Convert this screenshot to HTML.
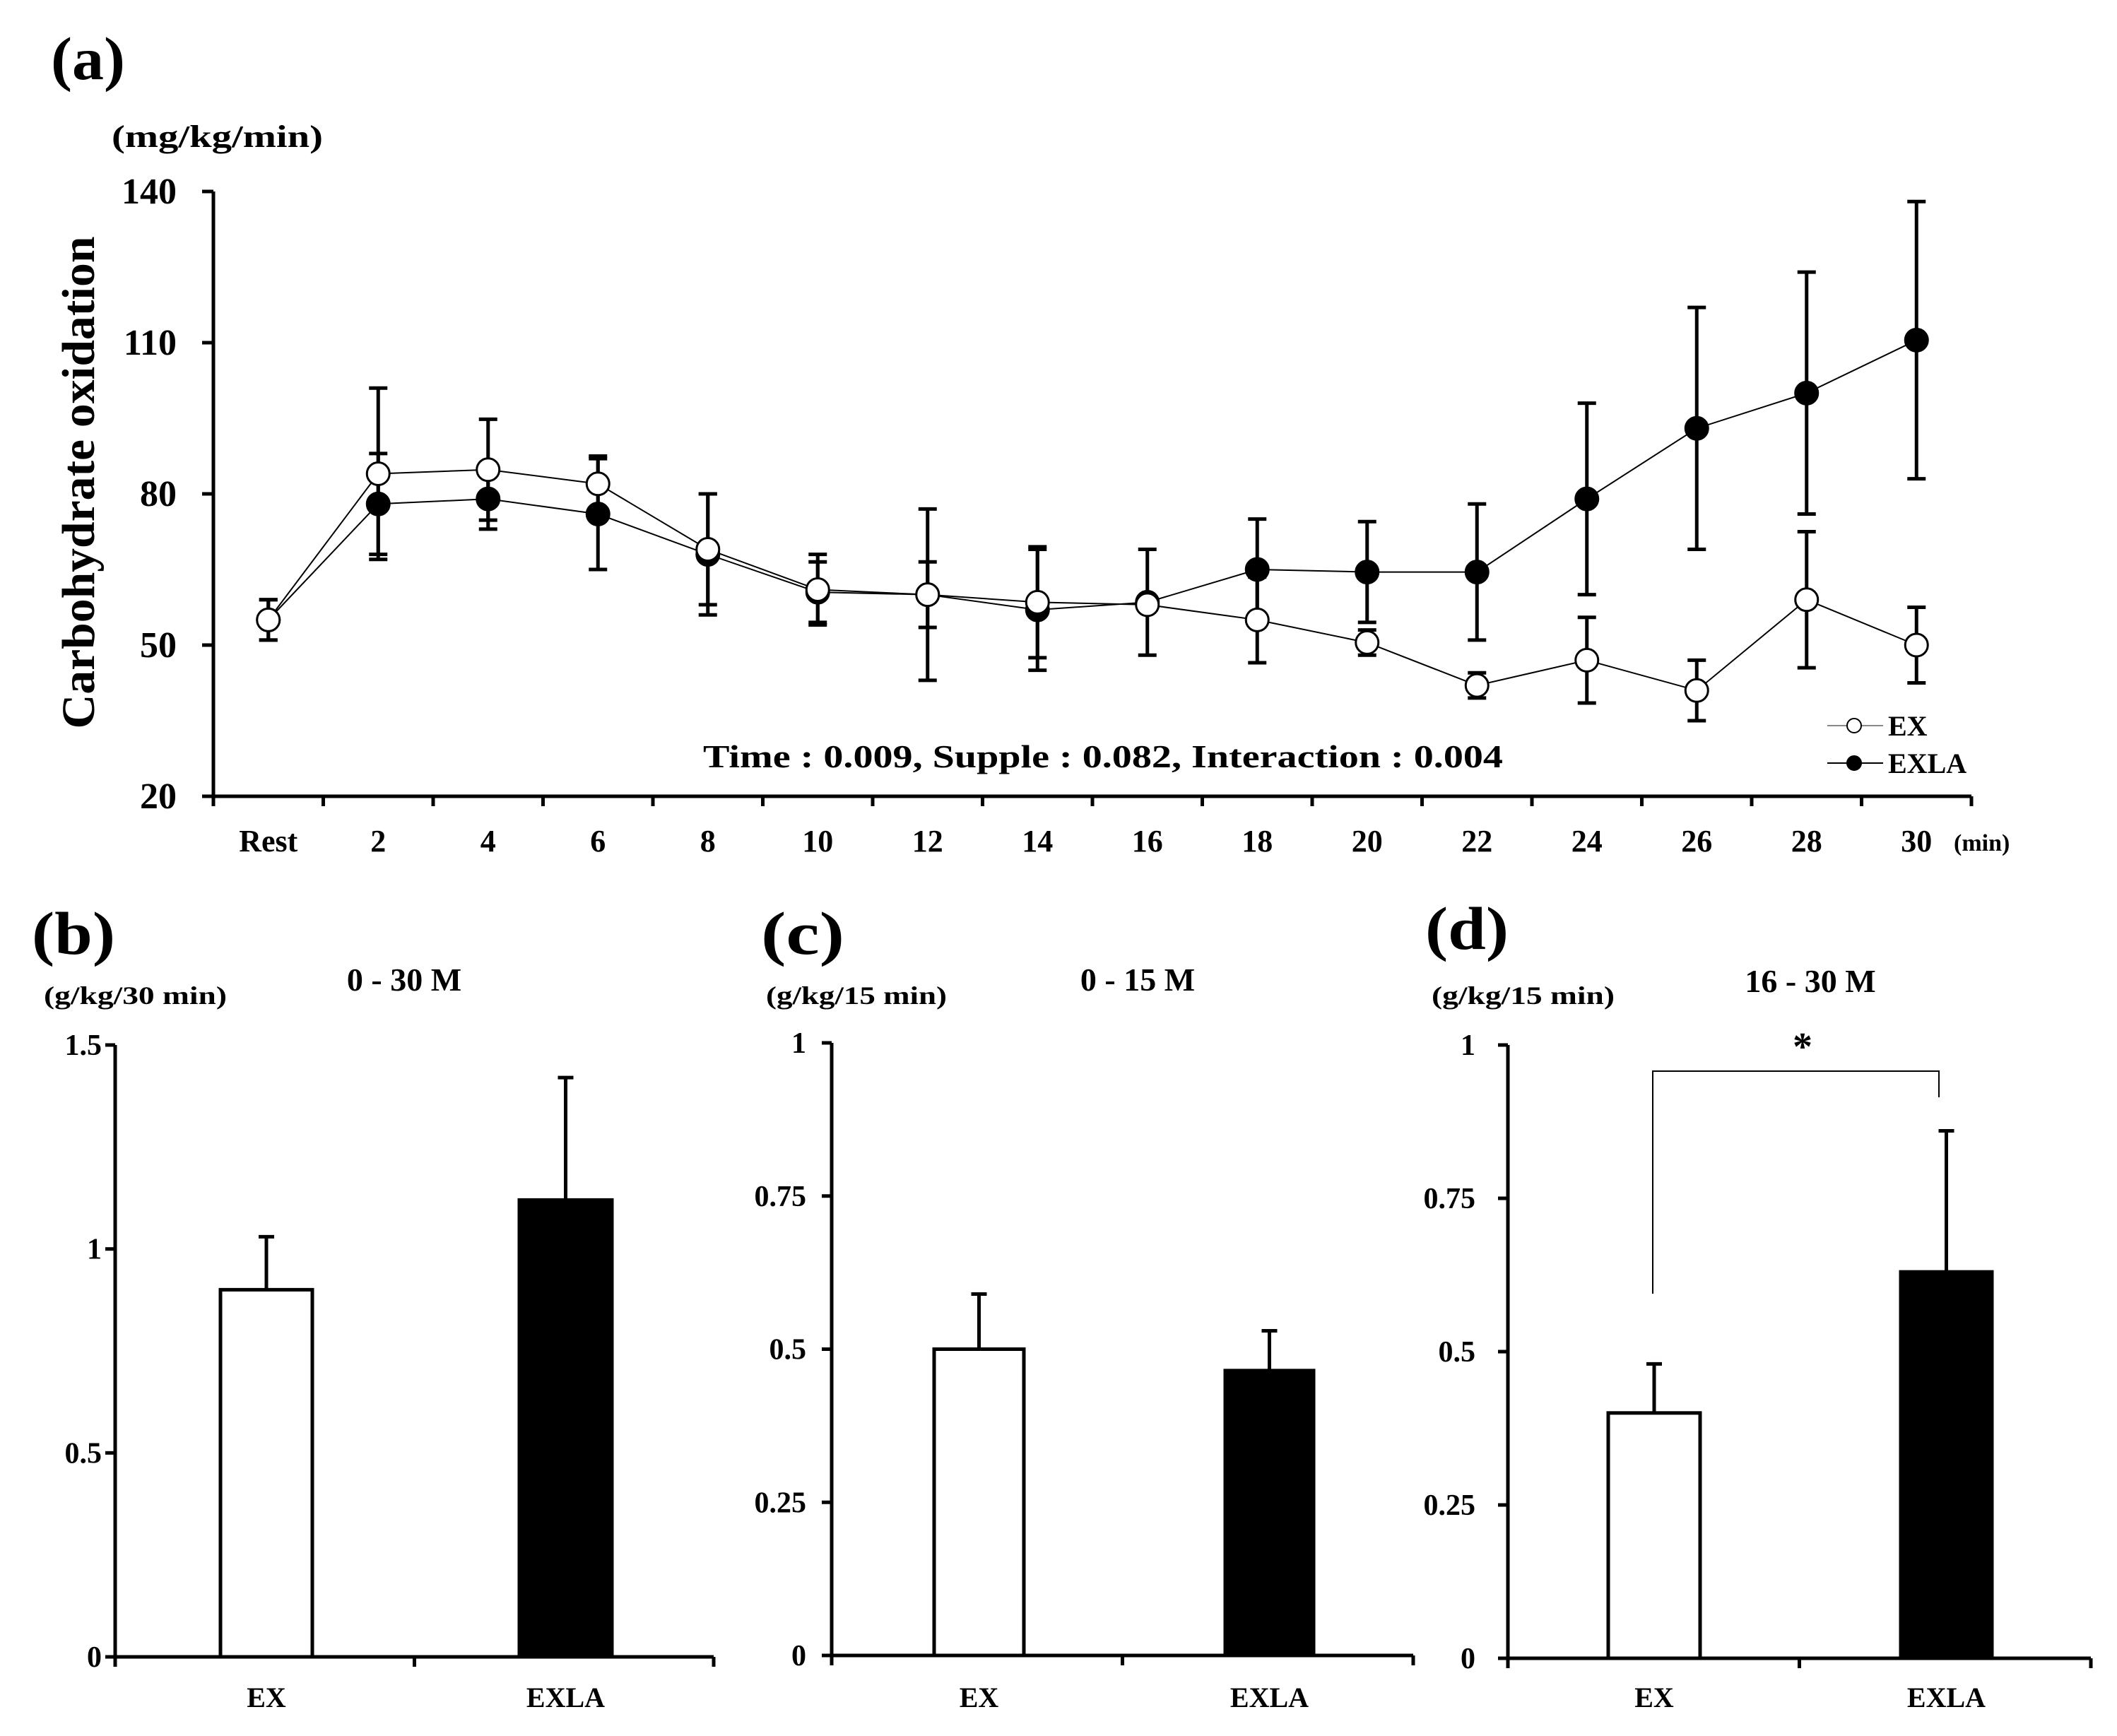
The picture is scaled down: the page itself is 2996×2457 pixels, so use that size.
<!DOCTYPE html>
<html><head><meta charset="utf-8"><style>
body{margin:0;background:#fff}
svg{display:block}
text{font-family:"Liberation Serif",serif;font-weight:bold;fill:#000}
</style></head><body>
<svg width="2996" height="2457" viewBox="0 0 2996 2457" xmlns="http://www.w3.org/2000/svg" id="fig">
<text x="72" y="112" font-size="86" textLength="105" lengthAdjust="spacingAndGlyphs">(a)</text>
<text x="158" y="208" font-size="44" textLength="299" lengthAdjust="spacingAndGlyphs">(mg/kg/min)</text>
<text transform="translate(133,683) rotate(-90)" text-anchor="middle" font-size="66" textLength="697" lengthAdjust="spacingAndGlyphs">Carbohydrate oxidation</text>
<text x="995" y="1086" font-size="46" textLength="1132" lengthAdjust="spacingAndGlyphs">Time : 0.009,  Supple : 0.082,  Interaction : 0.004</text>
<text x="2765" y="1204" font-size="34" font-weight="normal">(min)</text>
<g id="lineChart"></g>
<g id="bars"></g>
</svg>
<script>
const cats = ["Rest","2","4","6","8","10","12","14","16","18","20","22","24","26","28","30"];
const exVals = [55,84,84.8,82,69,61,60,58.5,58,55,50.5,42,47,41,59,50];
const exErr = [4,17,10,5.5,11,7,6.5,11,1,8.5,2.5,2.5,8.5,6,13.5,7.5];
const exlaVals = [55,78,79,76,68,60.5,60,57,58.5,65,64.5,64.5,79,93,100,110.5];
const exlaErr = [4,10,6,11,12,6,17,12,10.5,10,10,13.5,19,24,24,27.5];
const yTicks = [20,50,80,110,140];

const barPanels = ["0 - 30 M","0 - 15 M","16 - 30 M"];
const barUnits = ["(g/kg/30 min)","(g/kg/15 min)","(g/kg/15 min)"];
const barLetters = ["(b)","(c)","(d)"];
const barCats = ["EX","EXLA"];
const barEx = [0.9,0.5,0.4];
const barExErr = [0.13,0.09,0.08];
const barExla = [1.12,0.465,0.63];
const barExlaErr = [0.3,0.065,0.23];
const barMax = [1.5,1,1];
const barTicks = [["0","0.5","1","1.5"],["0","0.25","0.5","0.75","1"],["0","0.25","0.5","0.75","1"]];

const NS="http://www.w3.org/2000/svg";
function mk(tag,attrs,parent){const e=document.createElementNS(NS,tag);for(const k in attrs)e.setAttribute(k,attrs[k]);parent.appendChild(e);return e;}

const L=document.getElementById('lineChart');
const ax0=302, ax1=2790, yTop=271, yBot=1127, yMin=20, yMax=140;
const step=(ax1-ax0)/cats.length;
const X=i=>ax0+step*(i+0.5);
const Y=v=>yBot-(v-yMin)/(yMax-yMin)*(yBot-yTop);
let e;
e=mk('line',{x1:ax0,y1:yTop,x2:ax0,y2:yBot+2,stroke:'#000','stroke-width':5},L);


e=mk('line',{x1:ax0-3,y1:yBot,x2:ax1,y2:yBot,stroke:'#000','stroke-width':5},L);


yTicks.forEach(t=>{
  mk('line',{x1:ax0-16,y1:Y(t),x2:ax0,y2:Y(t),stroke:'#000','stroke-width':5},L);
  const tx=mk('text',{x:250,y:Y(t)+17,'text-anchor':'end','font-size':52,'font-weight':'normal'},L);tx.textContent=t;
  
  
});
for(let i=0;i<=cats.length;i++){mk('line',{x1:ax0+step*i,y1:yBot,x2:ax0+step*i,y2:yBot+14,stroke:'#000','stroke-width':5},L);}
cats.forEach((c,i)=>{const tx=mk('text',{x:X(i),y:1205,'text-anchor':'middle','font-size':44},L);tx.textContent=c;
  
  });
function series(vals,errs,name){
  vals.forEach((v,i)=>{
    const g=mk('g',{},L);
    
    
    mk('line',{x1:X(i),y1:Y(v+errs[i]),x2:X(i),y2:Y(v-errs[i]),stroke:'#000','stroke-width':5},g);
    [v+errs[i],v-errs[i]].forEach(w=>mk('line',{x1:X(i)-13,y1:Y(w),x2:X(i)+13,y2:Y(w),stroke:'#000','stroke-width':5},g));
  });
  const p=mk('polyline',{points:vals.map((v,i)=>X(i)+','+Y(v)).join(' '),fill:'none',stroke:'#000','stroke-width':2},L);
  
  
}
function markers(vals,fill,name){
  vals.forEach((v,i)=>{const c=mk('circle',{cx:X(i),cy:Y(v),r:16,fill:fill,stroke:'#000','stroke-width':3},L);
    
    });
}
series(exlaVals,exlaErr,'exla');
series(exVals,exErr,'ex');
markers(exlaVals,'#000','exla');
markers(exVals,'#fff','ex');
[['EX','#fff',1027,'#888'],['EXLA','#000',1080,'#000']].forEach(([n,f,y,lc])=>{
  const g=mk('g',{},L);
  
  
  mk('line',{x1:2586,y1:y,x2:2665,y2:y,stroke:lc,'stroke-width':2},g);
  mk('circle',{cx:2624,cy:y,r:10,fill:f,stroke:'#000','stroke-width':2},g);
  const t=mk('text',{x:2672,y:y+14,'font-size':40,'font-weight':'normal'},g);t.textContent=n;
});

const B=document.getElementById('bars');
const P=[
 {ax:163,end:1010,top:1479,bot:2345,lx:45,ly:1350,ux:62,uy:1421,uw:259,tx:572,ty:1402,tr:144,ex:[312,442],exla:[735,866]},
 {ax:1177,end:2000,top:1476,bot:2343,lx:1077,ly:1350,ux:1084,uy:1421,uw:256,tx:1610,ty:1402,tr:1141,ex:[1322,1449],exla:[1734,1859]},
 {ax:2134,end:2959,top:1479,bot:2347,lx:2017,ly:1343,ux:2026,uy:1421,uw:259,tx:2562,ty:1404,tr:2088,ex:[2276,2406],exla:[2690,2819]}
];
P.forEach((p,k)=>{
  const g=mk('g',{},B);
  
  
  const YB=v=>p.bot-v/barMax[k]*(p.bot-p.top);
  let t=mk('text',{x:p.lx,y:p.ly,'font-size':86,textLength:118,lengthAdjust:'spacingAndGlyphs'},g);t.textContent=barLetters[k];
  t=mk('text',{x:p.ux,y:p.uy,'font-size':36,textLength:p.uw,lengthAdjust:'spacingAndGlyphs'},g);t.textContent=barUnits[k];
  t=mk('text',{x:p.tx,y:p.ty,'text-anchor':'middle','font-size':46},g);t.textContent=barPanels[k];
  barTicks[k].forEach(s=>{const v=parseFloat(s);
    mk('line',{x1:p.ax-14,y1:YB(v),x2:p.ax,y2:YB(v),stroke:'#000','stroke-width':5},g);
    const tt=mk('text',{x:p.tr,y:YB(v)+14,'text-anchor':'end','font-size':42,'font-weight':'normal'},g);tt.textContent=s;});
  const mid=(p.ax+p.end)/2;
  [[barEx[k],barExErr[k],p.ex,'#fff','ex'],[barExla[k],barExlaErr[k],p.exla,'#000','exla']].forEach(([v,er,xs,f,n])=>{
    const cx=(xs[0]+xs[1])/2;
    mk('line',{x1:cx,y1:YB(v),x2:cx,y2:YB(v+er),stroke:'#000','stroke-width':5},g);
    mk('line',{x1:cx-11,y1:YB(v+er),x2:cx+11,y2:YB(v+er),stroke:'#000','stroke-width':5},g);
    const r=mk('rect',{x:xs[0],y:YB(v),width:xs[1]-xs[0],height:p.bot-YB(v),fill:f,stroke:'#000','stroke-width':5},g);
    
    
  });
  mk('line',{x1:p.ax,y1:p.top,x2:p.ax,y2:p.bot+2,stroke:'#000','stroke-width':5},g);
  mk('line',{x1:p.ax-3,y1:p.bot,x2:p.end,y2:p.bot,stroke:'#000','stroke-width':5},g);
  [p.ax,mid,p.end].forEach(x=>mk('line',{x1:x,y1:p.bot,x2:x,y2:p.bot+14,stroke:'#000','stroke-width':5},g));
  barCats.forEach((c,j)=>{const xs=j?p.exla:p.ex;const tt=mk('text',{x:(xs[0]+xs[1])/2,y:2416,'text-anchor':'middle','font-size':40},g);tt.textContent=c;});
});
const br=mk('polyline',{points:'2339,1831 2339,1516 2744,1516 2744,1553',fill:'none',stroke:'#000','stroke-width':2},B);


const st=mk('text',{x:2551,y:1500,'text-anchor':'middle','font-size':56},B);st.textContent='*';


</script>
</body></html>
